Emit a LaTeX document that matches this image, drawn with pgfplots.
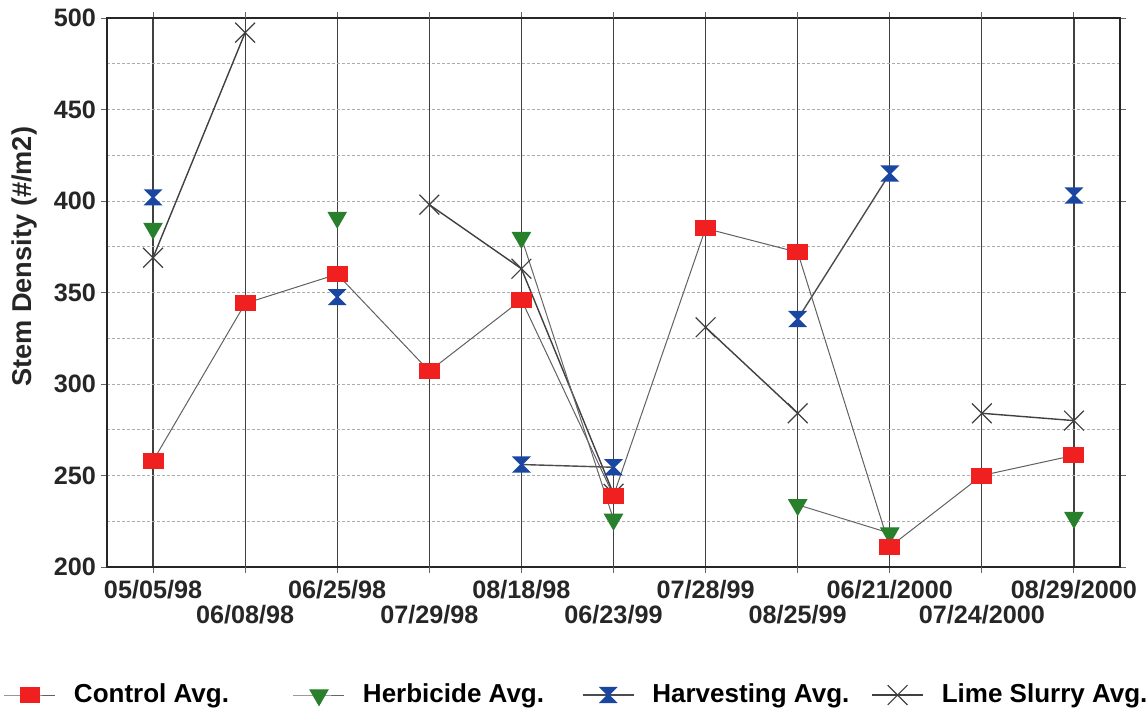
\documentclass[border=0pt]{standalone}
\usepackage{pgfplots}
\pgfplotsset{compat=1.18}
\usepackage{fontspec}
\setmainfont{Liberation Sans}
\definecolor{cred}{RGB}{240,32,32}
\definecolor{cgreen}{RGB}{40,128,45}
\definecolor{cblue}{RGB}{25,70,160}
\pgfdeclareplotmark{hourglass}{%
 \pgfpathmoveto{\pgfqpoint{-\pgfplotmarksize}{0.85\pgfplotmarksize}}%
 \pgfpathlineto{\pgfqpoint{\pgfplotmarksize}{0.85\pgfplotmarksize}}%
 \pgfpathlineto{\pgfqpoint{0.15\pgfplotmarksize}{0pt}}%
 \pgfpathlineto{\pgfqpoint{\pgfplotmarksize}{-0.85\pgfplotmarksize}}%
 \pgfpathlineto{\pgfqpoint{-\pgfplotmarksize}{-0.85\pgfplotmarksize}}%
 \pgfpathlineto{\pgfqpoint{-0.15\pgfplotmarksize}{0pt}}%
 \pgfpathclose
 \pgfusepathqfill
}
\begin{document}
\begin{tikzpicture}
\useasboundingbox (-53.5pt,-73pt) rectangle (519.5pt,283.5pt);
\begin{axis}[
  scale only axis, width=506.5pt, height=274.5pt,
  xmin=-0.5, xmax=10.5, ymin=200, ymax=500,
  unbounded coords=jump,
  xtick={0,2,4,6,8,10},
  xticklabels={05/05/98,06/25/98,08/18/98,07/28/99,06/21/2000,08/29/2000},
  extra x ticks={1,3,5,7,9},
  extra x tick labels={06/08/98,07/29/98,06/23/99,08/25/99,07/24/2000},
  extra x tick style={grid=major, major x grid style={black!75, line width=0.6pt}, xticklabel style={yshift=-12.5pt}},
  ytick={200,250,...,500},
  minor ytick={225,275,...,475},
  xmajorgrids, ymajorgrids, yminorgrids,
  major x grid style={black!75, line width=0.6pt},
  major y grid style={gray!65, line width=0.5pt, dash pattern=on 1.5pt off 1pt},
  minor y grid style={gray!65, line width=0.5pt, dash pattern=on 1.5pt off 1pt},
  axis line style={black!85, line width=0.8pt},
  tick align=outside, major tick length=3pt, minor tick length=0pt,
  tick style={black!60, line width=0.5pt},
  /pgf/number format/assume math mode=true,
  tick label style={font=\fontsize{12.6}{15}\selectfont\bfseries, black!85},
  yticklabel style={xshift=1pt},
  ylabel={Stem Density (\#/m2)},
  ylabel style={at={(axis description cs:-0.0819,0.565)}, anchor=center, font=\fontsize{13.6}{15}\selectfont\bfseries, black!85},
  reverse legend,
  legend columns=4,
  legend style={at={(axis description cs:0,0)}, anchor=west, xshift=-51.5pt, yshift=-64pt,
    draw=none, fill=none, inner sep=0pt, outer sep=0pt,
    font=\fontsize{13}{15}\selectfont\bfseries,
    cells={anchor=west}, nodes={inner sep=0pt},
    /tikz/every odd column/.append style={column sep=9pt},
    /tikz/every even column/.append style={column sep=0pt}},
  legend image code/.code={\draw[mark repeat=2,mark phase=2,#1] plot coordinates {(0pt,0pt) (12.75pt,0pt) (25.5pt,0pt)};},
]
% Lime Slurry
\addplot[black!75, line width=0.7pt, mark=x, mark size=7pt, mark options={black!75, line width=0.6pt, solid}]
  coordinates {(0,369)(1,492)(2,nan)(3,398)(4,363)(5,240)(5.5,nan)(6,331)(7,284)(8,nan)(9,284)(10,280)};
\addlegendentry{Lime Slurry Avg.}
% Harvesting
\addplot[black!70, line width=0.7pt, mark=hourglass, mark size=4.75pt, mark options={cblue, solid}]
  coordinates {(0,402)(1,nan)(2,347.5)(3,nan)(4,256)(5,254.5)(6,nan)(7,335.5)(8,415)(9,nan)(10,403)};
\addlegendentry{\makebox[109.5pt][l]{Harvesting Avg.}}
% Herbicide
\addplot[gray!80!black, line width=0.5pt, mark=triangle*, mark size=5.2pt, mark options={cgreen, rotate=180, solid}]
  coordinates {(0,385)(1,nan)(2,391)(3,nan)(4,380)(5,226)(6,nan)(7,234)(8,218.5)(9,nan)(10,227)};
\addlegendentry{\makebox[109.5pt][l]{Herbicide Avg.}}
% Control
\addplot[gray!75!black, line width=0.5pt, mark=square*, mark size=3.75pt, mark options={cred, xscale=1.33, solid}]
  coordinates {(0,258)(1,344)(2,360)(3,307)(4,346)(5,239)(6,385)(7,372)(8,211)(9,250)(10,261)};
\addlegendentry{\makebox[109.5pt][l]{Control Avg.}}
\end{axis}
\end{tikzpicture}
\end{document}
